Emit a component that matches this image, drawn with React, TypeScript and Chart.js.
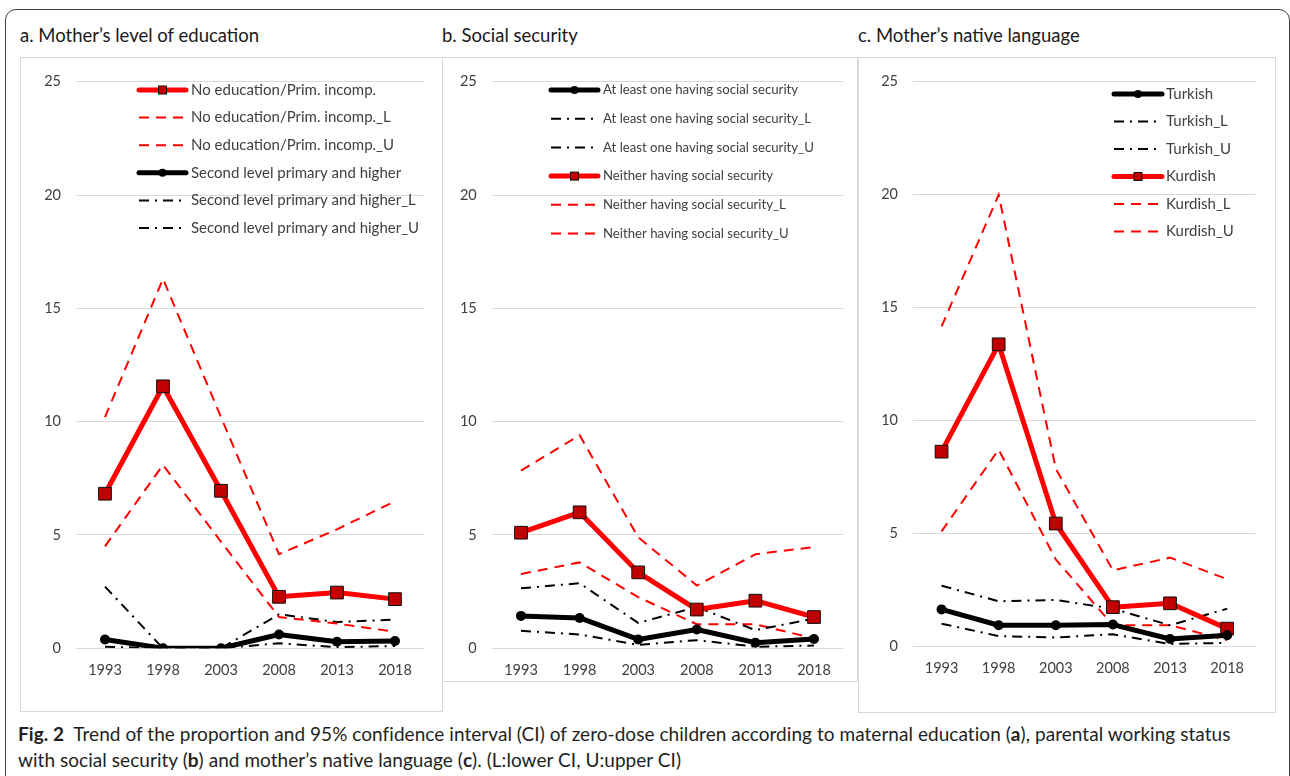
import React, { useEffect, useRef } from 'react';
import { Chart, registerables } from 'chart.js';

Chart.register(...registerables);

// ---------- data ----------
const years = ['1993', '1998', '2003', '2008', '2013', '2018'];
const yTickValues = [0, 5, 10, 15, 20, 25];

// a. Mother's level of education
const eduNoEd = [6.82, 11.56, 6.95, 2.27, 2.46, 2.17];
const eduNoEdL = [4.5, 8.09, 4.7, 1.38, 1.09, 0.73];
const eduNoEdU = [10.2, 16.3, 10.2, 4.15, 5.25, 6.49];
const eduSecond = [0.39, 0, 0, 0.61, 0.29, 0.32];
const eduSecondL = [0.07, 0, 0, 0.22, 0.05, 0.1];
const eduSecondU = [2.72, 0, 0, 1.5, 1.16, 1.27];

// b. Social security
const secAny = [1.43, 1.34, 0.39, 0.83, 0.25, 0.41];
const secAnyL = [0.77, 0.61, 0.15, 0.36, 0.07, 0.12];
const secAnyU = [2.65, 2.87, 1.12, 1.82, 0.8, 1.31];
const secNone = [5.1, 6.0, 3.35, 1.71, 2.1, 1.38];
const secNoneL = [3.28, 3.79, 2.26, 1.06, 1.06, 0.44];
const secNoneU = [7.84, 9.4, 4.9, 2.77, 4.15, 4.47];

// c. Mother's native language
const langTurkish = [1.65, 0.95, 0.95, 0.98, 0.34, 0.51];
const langTurkishL = [1.02, 0.47, 0.41, 0.55, 0.12, 0.17];
const langTurkishU = [2.7, 2.01, 2.07, 1.68, 0.95, 1.68];
const langKurdish = [8.63, 13.38, 5.45, 1.75, 1.92, 0.8];
const langKurdishL = [5.1, 8.72, 3.86, 0.95, 0.95, 0.29];
const langKurdishU = [14.17, 20.0, 7.87, 3.38, 3.94, 2.99];

// ---------- styles ----------
type Kind = 'redMain' | 'redCI' | 'blackMain' | 'blackCI';
type Series = { label: string; data: number[]; kind: Kind };

const RED = '#ff0000';
const MARKER_RED = '#c00000';
const TEXT = '#404040';
const FONT = 'Lato, "Open Sans", sans-serif';
const RED_DASH = [10, 7];
const BLACK_DASH = [10, 6, 2, 6];

function styleFor(kind: Kind): any {
  switch (kind) {
    case 'redMain':
      return {
        borderColor: RED, borderWidth: 5, borderDash: [], borderJoinStyle: 'round', borderCapStyle: 'round',
        pointStyle: 'rect', pointRadius: 9, pointHoverRadius: 9,
        pointBackgroundColor: MARKER_RED, pointBorderColor: '#111', pointBorderWidth: 1, order: 0,
      };
    case 'blackMain':
      return {
        borderColor: '#000', borderWidth: 5, borderDash: [], borderJoinStyle: 'round', borderCapStyle: 'round',
        pointStyle: 'circle', pointRadius: 5, pointHoverRadius: 5,
        pointBackgroundColor: '#000', pointBorderColor: '#000', pointBorderWidth: 0, order: 0,
      };
    case 'redCI':
      return { borderColor: RED, borderWidth: 2, borderDash: RED_DASH, pointRadius: 0, pointHoverRadius: 0, order: 1 };
    default:
      return { borderColor: '#000', borderWidth: 2, borderDash: BLACK_DASH, pointRadius: 0, pointHoverRadius: 0, order: 1 };
  }
}

type Panel = {
  title: string;
  titleX: number;
  box: { left: number; top: number; width: number; height: number };
  area: { yWidth: number; right: number; top: number; xHeight: number };
  legend: { x0: number; x1: number; textX: number; y0: number; step: number; fontSize: number };
  series: Series[];
};

const panels: Panel[] = [
  {
    title: 'a. Mother’s level of education',
    titleX: 20,
    box: { left: 20, top: 57, width: 423, height: 655 },
    area: { yWidth: 55, right: 18, top: 18.8, xHeight: 62.7 },
    legend: { x0: 118, x1: 165, textX: 170, y0: 32, step: 27.6, fontSize: 15 },
    series: [
      { label: 'No education/Prim. incomp.', data: eduNoEd, kind: 'redMain' },
      { label: 'No education/Prim. incomp._L', data: eduNoEdL, kind: 'redCI' },
      { label: 'No education/Prim. incomp._U', data: eduNoEdU, kind: 'redCI' },
      { label: 'Second level primary and higher', data: eduSecond, kind: 'blackMain' },
      { label: 'Second level primary and higher_L', data: eduSecondL, kind: 'blackCI' },
      { label: 'Second level primary and higher_U', data: eduSecondU, kind: 'blackCI' },
    ],
  },
  {
    title: 'b. Social security',
    titleX: 442,
    box: { left: 442, top: 57, width: 416, height: 625 },
    area: { yWidth: 48.7, right: 13.7, top: 19, xHeight: 32.7 },
    legend: { x0: 108, x1: 155, textX: 160, y0: 32, step: 28.7, fontSize: 13.2 },
    series: [
      { label: 'At least one having social security', data: secAny, kind: 'blackMain' },
      { label: 'At least one having social security_L', data: secAnyL, kind: 'blackCI' },
      { label: 'At least one having social security_U', data: secAnyU, kind: 'blackCI' },
      { label: 'Neither having social security', data: secNone, kind: 'redMain' },
      { label: 'Neither having social security_L', data: secNoneL, kind: 'redCI' },
      { label: 'Neither having social security_U', data: secNoneU, kind: 'redCI' },
    ],
  },
  {
    title: 'c. Mother’s native language',
    titleX: 858,
    box: { left: 858, top: 57, width: 418, height: 656 },
    area: { yWidth: 54, right: 19.3, top: 18.7, xHeight: 65.3 },
    legend: { x0: 255, x1: 303, textX: 307, y0: 36, step: 27.5, fontSize: 15 },
    series: [
      { label: 'Turkish', data: langTurkish, kind: 'blackMain' },
      { label: 'Turkish_L', data: langTurkishL, kind: 'blackCI' },
      { label: 'Turkish_U', data: langTurkishU, kind: 'blackCI' },
      { label: 'Kurdish', data: langKurdish, kind: 'redMain' },
      { label: 'Kurdish_L', data: langKurdishL, kind: 'redCI' },
      { label: 'Kurdish_U', data: langKurdishU, kind: 'redCI' },
    ],
  },
];

function makeLegendPlugin(p: Panel) {
  return {
    id: 'insideLegend',
    afterDraw(chart: any) {
      const ctx: CanvasRenderingContext2D = chart.ctx;
      const { x0, x1, textX, y0, step, fontSize } = p.legend;
      ctx.save();
      p.series.forEach((s, i) => {
        const y = y0 + i * step;
        const st = styleFor(s.kind);
        ctx.strokeStyle = st.borderColor;
        ctx.lineWidth = st.borderWidth;
        ctx.setLineDash(st.borderDash || []);
        ctx.lineCap = s.kind === 'redMain' || s.kind === 'blackMain' ? 'round' : 'butt';
        ctx.beginPath();
        ctx.moveTo(x0, y);
        ctx.lineTo(x1, y);
        ctx.stroke();
        ctx.setLineDash([]);
        const cx = (x0 + x1) / 2;
        if (s.kind === 'redMain') {
          ctx.fillStyle = MARKER_RED;
          ctx.fillRect(cx - 4, y - 4, 8, 8);
          ctx.strokeStyle = '#111';
          ctx.lineWidth = 1;
          ctx.strokeRect(cx - 4, y - 4, 8, 8);
        } else if (s.kind === 'blackMain') {
          ctx.fillStyle = '#000';
          ctx.beginPath();
          ctx.arc(cx, y, 4, 0, Math.PI * 2);
          ctx.fill();
        }
        ctx.fillStyle = TEXT;
        ctx.font = `${fontSize}px ${FONT}`;
        ctx.textBaseline = 'middle';
        ctx.textAlign = 'left';
        ctx.fillText(s.label, textX, y);
      });
      ctx.restore();
    },
  };
}

function PanelChart({ p }: { p: Panel }) {
  const ref = useRef<HTMLCanvasElement | null>(null);
  const w = p.box.width - 2;
  const h = p.box.height - 2;
  useEffect(() => {
    if (!ref.current) return;
    const chart = new Chart(ref.current, {
      type: 'line',
      data: {
        labels: years,
        datasets: p.series.map((s) => ({
          label: s.label,
          data: s.data,
          tension: 0,
          fill: false,
          ...styleFor(s.kind),
        })),
      },
      options: {
        animation: false,
        responsive: false,
        devicePixelRatio: 1,
        layout: { padding: { left: 0, right: p.area.right, top: p.area.top, bottom: 0 } },
        plugins: { legend: { display: false }, tooltip: { enabled: false }, title: { display: false } },
        scales: {
          x: {
            offset: true,
            grid: { display: false, drawTicks: false },
            border: { display: false },
            ticks: { color: TEXT, font: { family: FONT, size: 14.5 }, padding: 13, maxRotation: 0, autoSkip: false },
            afterFit: (scale: any) => { scale.height = p.area.xHeight; },
          },
          y: {
            min: 0,
            max: 25,
            afterBuildTicks: (scale: any) => { scale.ticks = yTickValues.map((v) => ({ value: v })); },
            grid: { color: '#d9d9d9', lineWidth: 1, drawTicks: false },
            border: { display: false },
            ticks: { color: TEXT, font: { family: FONT, size: 14.5 }, padding: 15 },
            afterFit: (scale: any) => { scale.width = p.area.yWidth; },
          },
        },
      } as any,
      plugins: [makeLegendPlugin(p)],
    });
    return () => chart.destroy();
  }, []);
  return (
    <div
      style={{
        position: 'absolute',
        left: p.box.left,
        top: p.box.top,
        width: p.box.width,
        height: p.box.height,
        border: '1px solid #d9d9d9',
        boxSizing: 'border-box',
        background: '#fff',
      }}
    >
      <canvas ref={ref} width={w} height={h} style={{ display: 'block', width: w, height: h }} />
    </div>
  );
}

export default function App() {
  return (
    <div style={{ position: 'absolute', left: 0, top: 0, width: 1290, height: 776, overflow: 'hidden', background: '#fff' }}>
      <div
        style={{
          position: 'absolute', left: 5, top: 9, width: 1285, height: 900,
          border: '1px solid #3f3f3f', borderRadius: 11, boxSizing: 'border-box',
        }}
      />
      {panels.map((p, i) => (
        <React.Fragment key={i}>
          <div
            style={{
              position: 'absolute', left: p.titleX, top: 23, height: 24, lineHeight: '24px',
              fontFamily: FONT, fontSize: 18.5, color: '#1a1a1a', whiteSpace: 'nowrap',
            }}
          >
            {p.title}
          </div>
          <PanelChart p={p} />
        </React.Fragment>
      ))}
      <div
        style={{
          position: 'absolute', left: 18, top: 721, width: 1268,
          fontFamily: FONT, fontSize: 19, lineHeight: '26px', letterSpacing: '0.05px',
          color: '#231f20', whiteSpace: 'nowrap',
        }}
      >
        <b>Fig. 2</b>&nbsp; Trend of the proportion and 95% confidence interval (CI) of zero-dose children according to
        maternal education (<b>a</b>), parental working status
        <br />
        with social security (<b>b</b>) and mother’s native language (<b>c</b>). (L:lower CI, U:upper CI)
      </div>
    </div>
  );
}
